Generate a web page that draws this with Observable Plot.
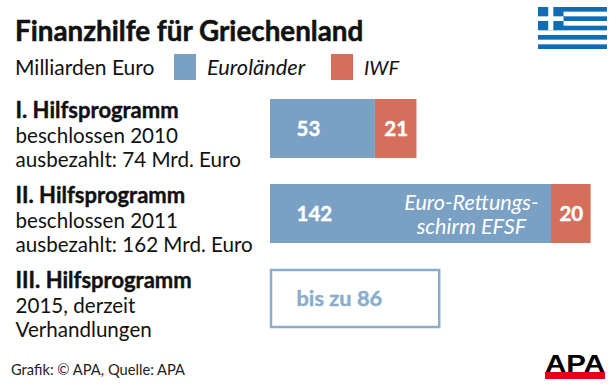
<!DOCTYPE html>
<html>
<head>
<meta charset="utf-8">
<script src="https://cdn.jsdelivr.net/npm/d3@7"></script>
<script src="https://cdn.jsdelivr.net/npm/@observablehq/plot@0.6"></script>
<style>
html,body{margin:0;padding:0;background:#fff;overflow:hidden}
body{width:616px;height:387px;position:relative;font-family:Lato,"Open Sans",sans-serif;color:#111}
#title{position:absolute;left:15px;top:13px;font-size:27.8px;font-weight:700;line-height:36px;white-space:nowrap;-webkit-text-stroke:.5px #111}
.leg{position:absolute;top:54px;font-size:21px;line-height:26px;white-space:nowrap}
.sw{position:absolute;top:54px;width:22px;height:26px}
#chart{position:absolute;left:0;top:90px}
#source{position:absolute;left:11px;top:359px;font-size:14.7px;line-height:20px;color:#222;white-space:nowrap}
#flag{position:absolute;left:538px;top:7px}
#logo{position:absolute;left:544px;top:350px}
</style>
</head>
<body>
<div id="title">Finanzhilfe für Griechenland</div>
<div class="leg" style="left:15px">Milliarden Euro</div>
<div class="sw" style="left:174px;background:#7aa1c4"></div>
<div class="leg" style="left:207px;font-style:italic;font-size:21.8px">Euroländer</div>
<div class="sw" style="left:331px;background:#d36f5b"></div>
<div class="leg" style="left:364px;font-style:italic;font-size:20px">IWF</div>
<svg id="flag" width="69" height="42" viewBox="0 0 27 18" preserveAspectRatio="none">
  <rect width="27" height="18" fill="#0f6db5"/>
  <g fill="#fff">
    <rect x="10" y="2" width="17" height="2"/><rect x="10" y="6" width="17" height="2"/>
    <rect y="10" width="27" height="2"/><rect y="14" width="27" height="2"/>
    <rect x="4" width="2" height="10"/><rect y="4" width="10" height="2"/>
  </g>
</svg>
<div id="chart"></div>
<div id="source">Grafik: © APA, Quelle: APA</div>
<svg id="logo" width="62" height="30" viewBox="0 0 62 30">
  <text x="31" y="22" text-anchor="middle" font-family="Liberation Sans" font-weight="700" font-size="24" textLength="60" lengthAdjust="spacingAndGlyphs" fill="#000">APA</text>
  <rect x="1" y="22" width="60" height="7" fill="#e2001a"/>
</svg>
<script>
const programs = ["I. Hilfsprogramm", "II. Hilfsprogramm", "III. Hilfsprogramm"];
const details = ["beschlossen 2010\nausbezahlt: 74 Mrd. Euro", "beschlossen 2011\nausbezahlt: 162 Mrd. Euro", "2015, derzeit\nVerhandlungen"];
const euroValues = [53, 142];
const imfValues = [21, 20];
const plannedValue = 86;
const plannedLabel = "bis zu 86";
const noteLabel = "Euro-Rettungs-\nschirm EFSF";
const noteCenter = 101.5;
const blue = "#7aa1c4", red = "#d36f5b", pale = "#8aadcc";

const euro = euroValues.map((v, i) => ({program: programs[i], x1: 0, x2: v}));
const imf = imfValues.map((v, i) => ({program: programs[i], x1: euroValues[i], x2: euroValues[i] + v, v}));
const labels = programs.map((p, i) => ({program: p, detail: details[i]}));

const chart = Plot.plot({
  width: 616, height: 255,
  margin: 0,
  x: {domain: [0, 162], range: [270, 590.6], axis: null},
  y: {domain: programs, range: [9, 238], paddingInner: 0.306, paddingOuter: 0, axis: null},
  style: {background: "transparent", fontFamily: "Lato, 'Open Sans', sans-serif"},
  marks: [
    Plot.barX(euro, {x1: "x1", x2: "x2", y: "program", fill: blue}),
    Plot.barX(imf, {x1: "x1", x2: "x2", y: "program", fill: red}),
    Plot.barX([{program: programs[2], x1: 0, x2: plannedValue}], {x1: "x1", x2: "x2", y: "program", fill: "none", stroke: pale, strokeWidth: 2.5, inset: 1}),
    Plot.text(euro, {x: "x1", y: "program", text: d => String(d.x2), textAnchor: "start", dx: 26, fill: "#fff", stroke: "#fff", strokeWidth: 0.4, fontWeight: 700, fontSize: 20.5}),
    Plot.text(imf, {x: d => (d.x1 + d.x2) / 2, y: "program", text: d => String(d.v), fill: "#fff", stroke: "#fff", strokeWidth: 0.4, fontWeight: 700, fontSize: 20.5}),
    Plot.text([{program: programs[1]}], {x: () => noteCenter, y: "program", text: () => noteLabel, fill: "#fff", fontStyle: "italic", fontSize: 21.6, lineHeight: 1.15}),
    Plot.text([{program: programs[2]}], {x: () => 0, y: "program", text: () => plannedLabel, textAnchor: "start", dx: 26, fill: pale, stroke: pale, strokeWidth: 0.4, fontWeight: 700, fontSize: 21.8}),
    Plot.text(labels, {y: "program", text: "program", frameAnchor: "left", dx: 15, dy: -18, fill: "#111", stroke: "#111", strokeWidth: 0.4, fontWeight: 700, fontSize: 22}),
    Plot.text(labels, {y: "program", text: "detail", frameAnchor: "left", dx: 15, dy: 18, fill: "#111", fontSize: 20.6, lineHeight: 1.2})
  ]
});
document.getElementById("chart").append(chart);
</script>
</body>
</html>
